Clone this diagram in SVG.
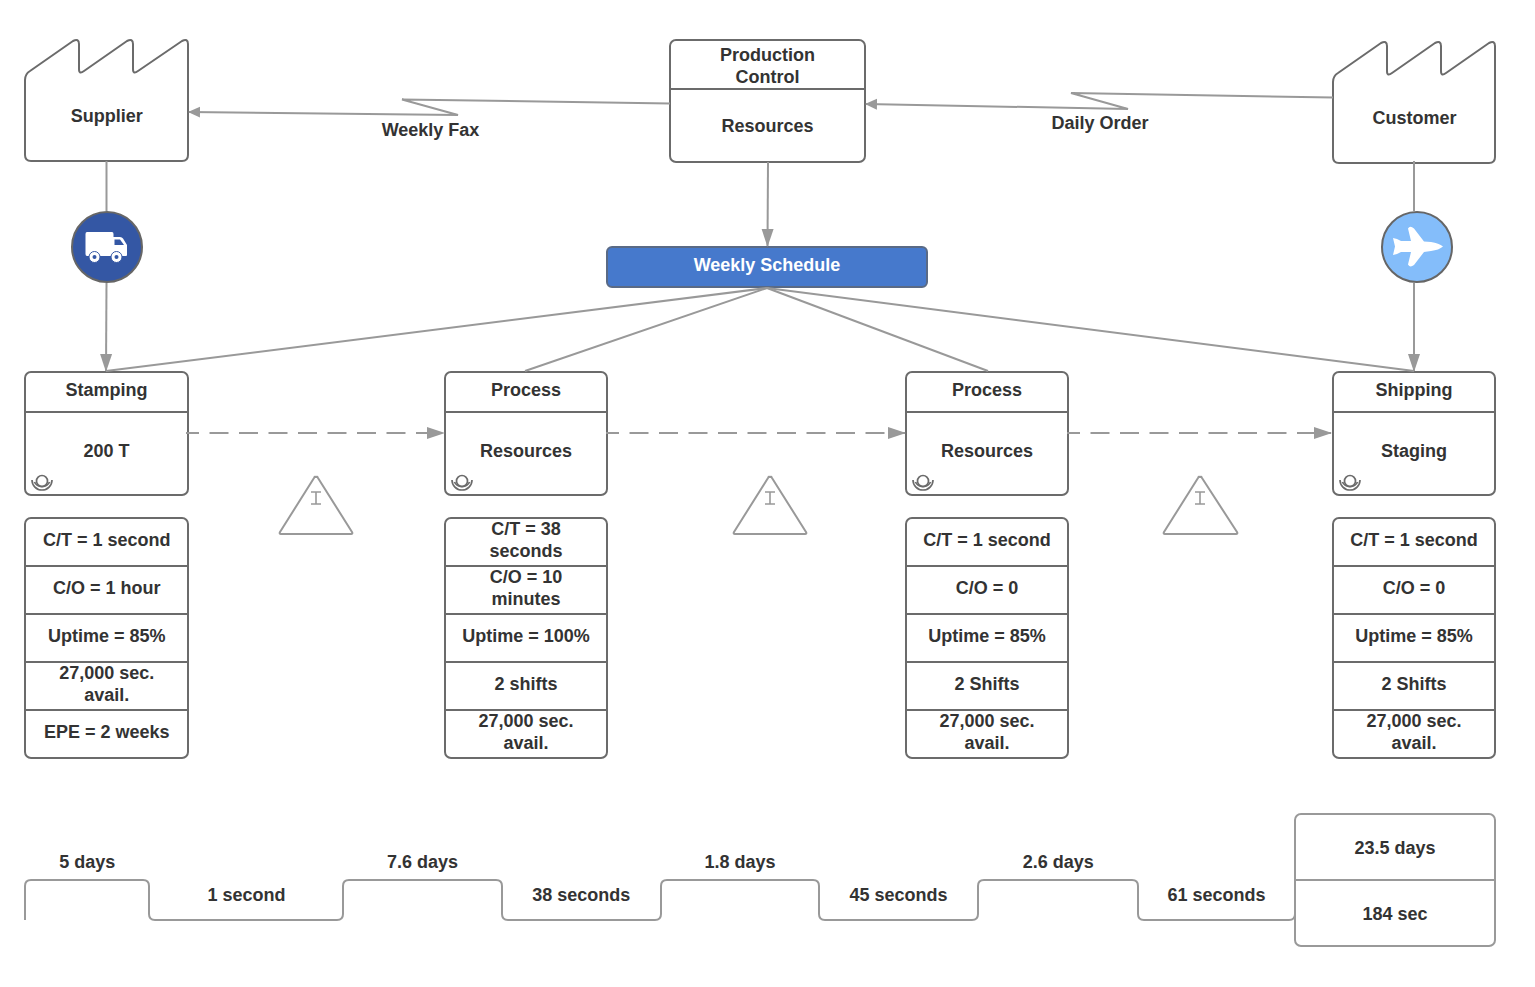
<svg xmlns="http://www.w3.org/2000/svg" width="1535" height="987" viewBox="0 0 1535 987">
<defs>
<style>
text{font-family:"Liberation Sans",Arial,sans-serif;font-size:18px;font-weight:700;fill:#333;text-anchor:middle}
.b{fill:#fff;stroke:#6b6b6b;stroke-width:2;stroke-linejoin:round}
.d{fill:none;stroke:#6b6b6b;stroke-width:2}
.s{fill:none;stroke:#6b6b6b;stroke-width:1.700}
.c{fill:none;stroke:#999;stroke-width:2}
.g{fill:none;stroke:#999;stroke-width:2;stroke-linejoin:round}
.dash{stroke-dasharray:19 10.500;stroke-dashoffset:6}
.i{fill:none;stroke:#999;stroke-width:1.600}
</style>
<marker id="a" markerUnits="userSpaceOnUse" markerWidth="20" markerHeight="16" refX="17" refY="8" orient="auto"><path d="M0 2L18 8L0 14z" fill="#999"/></marker>
<marker id="f" markerUnits="userSpaceOnUse" markerWidth="14" markerHeight="14" refX="11" refY="7" orient="auto"><path d="M0 1.500L12 7L0 12.500z" fill="#999"/></marker>
<g id="burst"><path class="s" d="M-10 -5A10 10 0 0 0 10 -5"/><path class="s" d="M-7.500 -3A8 7 0 0 0 7.500 -3"/><circle class="s" cx="0" cy="-4" r="5.500"/></g>
</defs>

<g id="supplier">
<path class="b" d="M25 155V80Q25 74 30 71L73 41Q79 38 79 44V69Q79 75 84 71L127 41Q133 38 133 44V69Q133 75 138 71L182 41Q188 38 188 44V155Q188 161 182 161H31Q25 161 25 155Z"/>
<text x="106.800" y="121.500">Supplier</text>
</g>
<g id="customer">
<path class="b" d="M1333 157V82Q1333 76 1338 73L1381 43Q1387 40 1387 46V71Q1387 77 1392 73L1435 43Q1441 40 1441 46V71Q1441 77 1446 73L1489 43Q1495 40 1495 46V157Q1495 163 1489 163H1339Q1333 163 1333 157Z"/>
<text x="1414.500" y="123.500">Customer</text>
</g>
<g id="production-control">
<rect class="b" x="670" y="40" width="195" height="122" rx="6"/>
<path class="d" d="M670 89H865"/>
<text x="767.500" y="60.500">Production</text>
<text x="767.500" y="82.500">Control</text>
<text x="767.500" y="132">Resources</text>
</g>
<g id="weekly-schedule">
<rect x="607" y="247" width="320" height="40" rx="5" fill="#4679cc" stroke="#5a6a85" stroke-width="2"/>
<text x="767" y="271" style="fill:#fff">Weekly Schedule</text>
</g>
<g id="label-weekly-fax"><text x="430.500" y="135.500">Weekly Fax</text></g>
<g id="label-daily-order"><text x="1100" y="129">Daily Order</text></g>

<g id="truck">
<circle cx="107" cy="247" r="35" fill="#3457a4" stroke="#666" stroke-width="2"/>
<path fill="#fff" d="M87 232H112Q113.500 232 113.500 234V237H120Q122 237 123 238.500L127 245V255Q127 256 126 256H87Q85.500 256 85.500 254V234Q85.500 232 87 232Z"/>
<path fill="#3457a4" d="M114.500 239.500H120L124 245H114.500Z"/>
<circle cx="94.500" cy="257" r="5.500" fill="#fff" stroke="#3457a4" stroke-width="1"/><circle cx="94.500" cy="257" r="2" fill="#3457a4"/>
<circle cx="116.500" cy="257" r="5.500" fill="#fff" stroke="#3457a4" stroke-width="1"/><circle cx="116.500" cy="257" r="2" fill="#3457a4"/>
</g>
<g id="plane">
<circle cx="1417" cy="247" r="35" fill="#84bdfa" stroke="#666" stroke-width="2"/>
<path fill="#fff" d="M1443 246.500Q1439 243 1431 242L1424 241.500L1414 228.500Q1410 225 1408 228.500L1411 241L1401 241L1397 239L1393 238L1395 246.500L1393 255L1397 254L1401 252L1411 252L1408 264.500Q1410 268 1414 265L1424 252L1431 251Q1439 250 1443 246.500Z"/>
</g>

<g id="stamping">
<rect class="b" x="25" y="372" width="163" height="123" rx="6"/><path class="d" d="M25 412H188"/>
<text x="106.500" y="395.500">Stamping</text><text x="106.500" y="457">200 T</text>
<use href="#burst" x="42" y="485"/>
</g>
<g id="process-1">
<rect class="b" x="445" y="372" width="162" height="123" rx="6"/><path class="d" d="M445 412H607"/>
<text x="526" y="395.500">Process</text><text x="526" y="457">Resources</text>
<use href="#burst" x="462" y="485"/>
</g>
<g id="process-2">
<rect class="b" x="906" y="372" width="162" height="123" rx="6"/><path class="d" d="M906 412H1068"/>
<text x="987" y="395.500">Process</text><text x="987" y="457">Resources</text>
<use href="#burst" x="923" y="485"/>
</g>
<g id="shipping">
<rect class="b" x="1333" y="372" width="162" height="123" rx="6"/><path class="d" d="M1333 412H1495"/>
<text x="1414" y="395.500">Shipping</text><text x="1414" y="457">Staging</text>
<use href="#burst" x="1350" y="485"/>
</g>

<g id="data-1">
<rect class="b" x="25" y="518" width="163" height="240" rx="6"/><path class="d" d="M25 566H188M25 614H188M25 662H188M25 710H188"/>
<text x="106.800" y="546">C/T = 1 second</text>
<text x="106.800" y="594">C/O = 1 hour</text>
<text x="106.800" y="642">Uptime = 85%</text>
<text x="106.800" y="679">27,000 sec.</text><text x="106.800" y="701">avail.</text>
<text x="106.800" y="738">EPE = 2 weeks</text>
</g>
<g id="data-2">
<rect class="b" x="445" y="518" width="162" height="240" rx="6"/><path class="d" d="M445 566H607M445 614H607M445 662H607M445 710H607"/>
<text x="526" y="535">C/T = 38</text><text x="526" y="557">seconds</text>
<text x="526" y="583">C/O = 10</text><text x="526" y="605">minutes</text>
<text x="526" y="642">Uptime = 100%</text>
<text x="526" y="690">2 shifts</text>
<text x="526" y="727">27,000 sec.</text><text x="526" y="749">avail.</text>
</g>
<g id="data-3">
<rect class="b" x="906" y="518" width="162" height="240" rx="6"/><path class="d" d="M906 566H1068M906 614H1068M906 662H1068M906 710H1068"/>
<text x="987" y="546">C/T = 1 second</text>
<text x="987" y="594">C/O = 0</text>
<text x="987" y="642">Uptime = 85%</text>
<text x="987" y="690">2 Shifts</text>
<text x="987" y="727">27,000 sec.</text><text x="987" y="749">avail.</text>
</g>
<g id="data-4">
<rect class="b" x="1333" y="518" width="162" height="240" rx="6"/><path class="d" d="M1333 566H1495M1333 614H1495M1333 662H1495M1333 710H1495"/>
<text x="1414" y="546">C/T = 1 second</text>
<text x="1414" y="594">C/O = 0</text>
<text x="1414" y="642">Uptime = 85%</text>
<text x="1414" y="690">2 Shifts</text>
<text x="1414" y="727">27,000 sec.</text><text x="1414" y="749">avail.</text>
</g>

<g id="inventory-1"><path class="g" d="M316 477Q317 476 318 478L352 532Q353 534 351 534H281Q279 534 280 532L314 478Q315 476 316 477Z"/><path class="i" d="M311 492H321M316 492V504M311 504H321"/></g>
<g id="inventory-2"><path class="g" d="M770 477Q771 476 772 478L806 532Q807 534 805 534H735Q733 534 734 532L768 478Q769 476 770 477Z"/><path class="i" d="M765 492H775M770 492V504M765 504H775"/></g>
<g id="inventory-3"><path class="g" d="M1200 477Q1201 476 1202 478L1237 532Q1238 534 1236 534H1165Q1163 534 1164 532L1198 478Q1199 476 1200 477Z"/><path class="i" d="M1195 492H1205M1200 492V504M1195 504H1205"/></g>

<g id="timeline">
<path class="g" d="M25 920V886Q25 880 31 880H143Q149 880 149 886V914Q149 920 155 920H337Q343 920 343 914V886Q343 880 349 880H496Q502 880 502 886V914Q502 920 508 920H655Q661 920 661 914V886Q661 880 667 880H813Q819 880 819 886V914Q819 920 825 920H972Q978 920 978 914V886Q978 880 984 880H1132Q1138 880 1138 886V914Q1138 920 1144 920H1289Q1295 920 1295 914V880"/>
<text x="87.300" y="868">5 days</text>
<text x="246.500" y="901">1 second</text>
<text x="422.500" y="868">7.6 days</text>
<text x="581.300" y="901">38 seconds</text>
<text x="740" y="868">1.8 days</text>
<text x="898.500" y="901">45 seconds</text>
<text x="1058.300" y="868">2.6 days</text>
<text x="1216.500" y="901">61 seconds</text>
</g>
<g id="total">
<rect class="g" x="1295" y="814" width="200" height="132" rx="6"/>
<path class="g" d="M1295 880H1495"/>
<text x="1395" y="854">23.5 days</text>
<text x="1395" y="920">184 sec</text>
</g>

<g id="connectors">
<path class="c" marker-end="url(#f)" d="M670 103.500L402 99.500L458 115L189 112"/>
<path class="c" marker-end="url(#f)" d="M1333 97.500L1071 93L1128 109L866 104"/>
<path class="c" marker-end="url(#a)" d="M768 162L767.500 246"/>
<path class="c" d="M106.500 161V211"/>
<path class="c" marker-end="url(#a)" d="M106.500 283L106 371"/>
<path class="c" d="M1414 161V211"/>
<path class="c" marker-end="url(#a)" d="M1414 283V371"/>
<path class="c" d="M767 288L106 371"/>
<path class="c" d="M767 288L525 371"/>
<path class="c" d="M767 288L988 371"/>
<path class="c" d="M767 288L1414 371"/>
<path class="c dash" marker-end="url(#a)" d="M186 433H444"/>
<path class="c dash" marker-end="url(#a)" d="M606 433H905"/>
<path class="c dash" marker-end="url(#a)" d="M1067 433H1331"/>
</g>
</svg>
